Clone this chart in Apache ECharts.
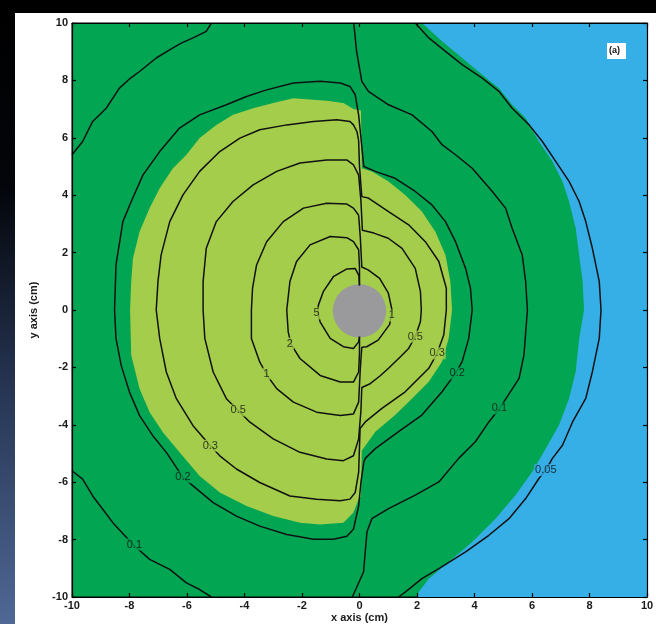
<!DOCTYPE html>
<html>
<head>
<meta charset="utf-8">
<script src="https://cdn.jsdelivr.net/npm/echarts@6/dist/echarts.min.js"></script>
<style>
  html, body { margin: 0; padding: 0; background: #fff; }
  #chart { width: 656px; height: 624px; }
</style>
</head>
<body>
<div id="chart"></div>
<script>
// Axis extents (cm)
const xMin = -10, xMax = 10, yMin = -10, yMax = 10, tickStep = 2;

// Isodose contour lines, [x, y] in cm. Each closed level runs around the
// left lobe, down/up the seam at x = 0 and around the smaller right lobe.
const level_5 = [
  [0.0, 0.85], [-0.02, 1.2], [-0.15, 1.45], [-0.44, 1.43], [-0.91, 1.16], [-1.26, 0.64],
  [-1.43, 0.17], [-1.45, -0.1], [-1.37, -0.41], [-1.02, -0.99], [-0.56, -1.28],
  [-0.21, -1.34], [-0.03, -1.11], [0.0, -0.93]
];
const level_2 = [
  [0.0, 0.88], [0.0, 1.5], [-0.03, 2.1], [-0.21, 2.38], [-0.44, 2.52], [-1.02, 2.56],
  [-1.72, 2.27], [-2.19, 1.69], [-2.42, 0.99], [-2.53, 0.0], [-2.48, -0.76], [-2.38, -1.2],
  [-2.07, -1.69], [-1.37, -2.28], [-0.67, -2.51], [-0.21, -2.51], [-0.03, -2.16],
  [0.0, -1.5], [0.0, -0.93]
];
const level_1 = [
  [-0.03, 3.3], [-0.21, 3.55], [-0.44, 3.69], [-1.14, 3.72], [-1.95, 3.55], [-2.65, 3.08],
  [-3.23, 2.38], [-3.58, 1.57], [-3.72, 0.76], [-3.76, 0.0], [-3.76, -0.99], [-3.47, -1.81],
  [-3.2, -2.3], [-2.88, -2.74], [-2.3, -3.21], [-1.49, -3.56], [-0.67, -3.68], [-0.21, -3.62],
  [-0.03, -3.21], [0.03, -2.0], [0.08, -1.3], [0.25, -1.28], [0.65, -1.05], [1.05, -0.5],
  [1.13, 0.0], [1.0, 0.6], [0.7, 1.1], [0.3, 1.4], [0.08, 1.5], [0.03, 2.5], [-0.03, 3.3]
];
const level_05 = [
  [-0.03, 4.7], [-0.21, 5.06], [-0.44, 5.23], [-1.14, 5.23], [-2.07, 5.12], [-2.88, 4.83],
  [-3.7, 4.36], [-4.4, 3.78], [-4.98, 3.08], [-5.33, 2.15], [-5.44, 0.99], [-5.44, 0.0],
  [-5.38, -0.99], [-5.09, -2.16], [-4.63, -3.09], [-4.22, -3.5], [-3.81, -3.91], [-3.0, -4.49],
  [-2.07, -4.96], [-1.14, -5.19], [-0.56, -5.25], [-0.21, -5.08], [-0.03, -4.49],
  [0.05, -3.5], [0.08, -2.7], [0.35, -2.58], [0.71, -2.3], [1.01, -2.03], [1.45, -1.6],
  [1.71, -1.34], [1.94, -0.93], [2.12, -0.4], [2.15, 0.0], [2.12, 0.64], [1.94, 1.45],
  [1.48, 2.15], [1.0, 2.5], [0.5, 2.68], [0.1, 2.78], [0.05, 3.8], [-0.03, 4.7]
];
const level_03 = [
  [-0.03, 5.9], [-0.09, 6.22], [-0.21, 6.45], [-0.33, 6.57], [-0.79, 6.63], [-1.6, 6.57],
  [-2.53, 6.45], [-3.47, 6.28], [-4.16, 5.99], [-4.86, 5.52], [-5.56, 4.83], [-6.14, 4.01],
  [-6.6, 3.08], [-6.9, 1.92], [-7.01, 0.99], [-7.07, 0.0], [-6.95, -0.99], [-6.72, -2.16],
  [-6.37, -3.09], [-5.79, -4.03], [-5.19, -4.73], [-4.86, -5.08], [-4.28, -5.54],
  [-3.47, -6.01], [-2.42, -6.48], [-1.49, -6.59], [-0.67, -6.65], [-0.33, -6.59],
  [-0.15, -6.36], [-0.03, -5.66], [0.02, -4.13], [0.2, -3.9], [0.78, -3.43], [1.59, -2.85],
  [2.41, -2.03], [2.7, -1.51], [2.93, -0.87], [3.02, 0.0], [3.02, 0.76], [2.76, 1.69],
  [2.29, 2.38], [1.71, 2.97], [1.01, 3.43], [0.31, 3.9], [0.08, 3.95], [0.0, 5.0], [-0.03, 5.9]
];
const level_02 = [
  [-0.03, 6.8], [-0.15, 7.5], [-0.33, 7.79], [-0.67, 7.91], [-1.37, 7.97], [-2.3, 7.91],
  [-3.23, 7.67], [-3.93, 7.44], [-4.63, 7.15], [-5.56, 6.8], [-6.26, 6.34], [-6.95, 5.52],
  [-7.53, 4.71], [-7.94, 3.78], [-8.23, 3.08], [-8.47, 1.57], [-8.52, 0.0], [-8.47, -0.99],
  [-8.29, -1.93], [-8.0, -2.86], [-7.65, -3.68], [-7.19, -4.38], [-6.72, -4.96],
  [-6.14, -5.83], [-5.79, -6.13], [-5.09, -6.71], [-4.28, -7.18], [-3.47, -7.53],
  [-2.53, -7.82], [-1.6, -7.99], [-0.91, -7.99], [-0.44, -7.88], [-0.21, -7.64],
  [-0.03, -6.83], [0.05, -6.0], [0.15, -5.3], [0.2, -5.17], [0.55, -4.83], [1.36, -4.24],
  [2.17, -3.66], [2.87, -2.85], [3.34, -2.21], [3.57, -1.8], [3.8, -0.99], [3.92, 0.0],
  [3.86, 0.76], [3.69, 1.45], [3.34, 2.38], [2.99, 3.08], [2.52, 3.66], [1.94, 4.13],
  [1.24, 4.59], [0.55, 4.83], [0.15, 5.0], [0.05, 6.0], [-0.03, 6.8]
];
const level_01_upperLeft = [
  [-5.15, 10.0], [-5.33, 9.71], [-5.79, 9.48], [-6.2, 9.3], [-6.49, 9.13], [-7.07, 8.78],
  [-7.65, 8.31], [-8.0, 8.05], [-8.35, 7.73], [-8.81, 7.03], [-9.28, 6.57], [-9.63, 5.87],
  [-10.0, 5.41]
];
const level_01_lowerLeft = [
  [-10.0, -5.6], [-9.63, -5.89], [-9.28, -6.48], [-8.93, -6.94], [-8.58, -7.41],
  [-7.88, -8.17], [-7.3, -8.69], [-6.6, -9.04], [-6.02, -9.51], [-5.56, -9.74], [-5.15, -10.0]
];
const level_01_right = [
  [-0.2, 10.0], [-0.1, 9.0], [0.08, 7.97], [0.31, 7.62], [1.01, 7.15], [1.83, 6.8],
  [2.52, 6.22], [2.87, 5.76], [3.34, 5.41], [3.92, 4.94], [4.62, 4.13], [5.08, 3.55],
  [5.31, 2.85], [5.66, 1.92], [5.78, 0.99], [5.84, 0.0], [5.72, -1.57], [5.55, -2.38],
  [5.14, -3.02], [4.87, -3.43], [4.5, -3.9], [4.03, -4.59], [3.45, -5.17], [2.76, -5.99],
  [1.94, -6.45], [1.01, -6.92], [0.43, -7.27], [0.26, -7.73], [0.14, -9.13], [-0.25, -10.0]
];
const level_005 = [
  [1.94, 10.0], [2.41, 9.48], [2.99, 9.01], [3.57, 8.55], [4.27, 8.08], [4.85, 7.62],
  [5.31, 7.03], [5.9, 6.45], [6.36, 5.87], [6.83, 5.17], [7.29, 4.48], [7.64, 3.78],
  [7.87, 3.08], [8.1, 2.15], [8.34, 0.99], [8.4, 0.0], [8.34, -0.99], [8.1, -2.15],
  [7.87, -3.08], [7.41, -3.9], [7.06, -4.71], [6.71, -5.17], [6.48, -5.58], [6.24, -5.87],
  [5.78, -6.57], [5.2, -7.27], [4.5, -7.85], [3.69, -8.43], [2.76, -9.01], [2.17, -9.36],
  [1.59, -9.83], [1.36, -10.0]
];

// Filled dose bands: edge of the lowest band (right side) and of the upper band
const blueEdge = [
  [2.17, 10.0], [2.87, 9.36], [3.57, 8.78], [4.27, 8.2], [4.85, 7.73], [5.31, 7.15],
  [5.78, 6.69], [6.24, 5.87], [6.71, 5.17], [7.06, 4.48], [7.29, 3.78], [7.52, 2.85],
  [7.64, 1.92], [7.76, 0.99], [7.81, 0.0], [7.64, -0.99], [7.52, -2.15], [7.29, -3.08],
  [6.94, -4.01], [6.48, -4.83], [6.01, -5.64], [5.43, -6.45], [4.73, -7.27], [3.92, -8.08],
  [3.1, -8.78], [2.41, -9.36], [2.06, -9.83], [2.0, -10.0]
];
const lightGreenEdge = [
  [0.05, 6.95], [-0.21, 7.0], [-0.56, 7.21], [-1.14, 7.29], [-2.3, 7.38], [-3.0, 7.21],
  [-3.7, 7.03], [-4.4, 6.8], [-4.98, 6.45], [-5.56, 5.99], [-6.02, 5.41], [-6.49, 4.94],
  [-6.95, 4.24], [-7.3, 3.55], [-7.65, 2.73], [-7.88, 1.8], [-7.94, 0.99], [-7.98, 0.0],
  [-7.94, -1.58], [-7.65, -2.74], [-7.3, -3.56], [-6.84, -4.26], [-6.26, -4.96],
  [-5.56, -5.78], [-4.86, -6.36], [-3.93, -6.83], [-3.0, -7.18], [-2.07, -7.41],
  [-1.37, -7.47], [-0.56, -7.41], [-0.21, -7.06], [-0.03, -6.59], [0.05, -6.5],
  [0.08, -4.9], [0.55, -4.24], [1.24, -3.66], [1.83, -3.08], [2.41, -2.5], [2.87, -1.8],
  [3.1, -0.99], [3.22, 0.0], [3.16, 0.99], [2.99, 1.92], [2.64, 2.73], [2.17, 3.43],
  [1.59, 4.01], [1.01, 4.48], [0.43, 4.83], [0.08, 4.94]
];

// Source: centre x, centre y, radius (cm)
const source = [0.0, -0.03, 0.93];

// Inline contour labels
const labelX = [-1.49, -2.42, -3.23, -4.22, -5.19, -6.14, -7.83, 1.12, 1.94, 2.7, 3.4, 4.87, 6.48];
const labelY = [-0.12, -1.17, -2.22, -3.5, -4.73, -5.83, -8.17, -0.19, -0.93, -1.51, -2.21, -3.43, -5.58];
const labelText = ['5', '2', '1', '0.5', '0.3', '0.2', '0.1', '1', '0.5', '0.3', '0.2', '0.1', '0.05'];

const COLORS = {
  dark: '#02a552',
  light: '#a3cd4b',
  blue: '#36aee6',
  source: '#9a9a9c',
  line: '#111111'
};
const FONT = 'Liberation Sans, Arial, sans-serif';

const blueRegion = blueEdge.concat([[xMax, yMin], [xMax, yMax]]);

function inside(pt, poly) {
  let c = false;
  for (let i = 0, j = poly.length - 1; i < poly.length; j = i++) {
    const [xi, yi] = poly[i], [xj, yj] = poly[j];
    if ((yi > pt[1]) !== (yj > pt[1]) &&
        pt[0] < (xj - xi) * (pt[1] - yi) / (yj - yi) + xi) c = !c;
  }
  return c;
}
function bandColor(pt) {
  if (inside(pt, lightGreenEdge)) return COLORS.light;
  if (inside(pt, blueRegion)) return COLORS.blue;
  return COLORS.dark;
}

function regionSeries(poly, fill, z) {
  return {
    type: 'custom',
    coordinateSystem: 'cartesian2d',
    silent: true,
    clip: true,
    z: z,
    data: [poly[0]],
    renderItem: function (params, api) {
      return {
        type: 'polygon',
        shape: { points: poly.map(p => api.coord(p)) },
        style: { fill: fill, stroke: null }
      };
    }
  };
}

function contourSeries(pts) {
  return {
    type: 'line',
    data: pts,
    symbol: 'none',
    silent: true,
    z: 5,
    lineStyle: { color: COLORS.line, width: 1.5 }
  };
}

const chart = echarts.init(document.getElementById('chart'), null, { renderer: 'canvas' });

const axisCommon = {
  type: 'value',
  min: xMin,
  max: xMax,
  interval: tickStep,
  z: 20,
  splitLine: { show: false },
  axisLine: { show: true, onZero: false, lineStyle: { color: '#000', width: 1.2 } },
  axisTick: { show: true, inside: true, length: 4, lineStyle: { color: '#000', width: 1.2 } }
};
const labelStyle = { fontSize: 11, fontWeight: 'bold', color: '#1a1a1a', fontFamily: FONT };
const nameStyle = { fontSize: 11, fontWeight: 'bold', color: '#1a1a1a', fontFamily: FONT };

chart.setOption({
  animation: false,
  backgroundColor: '#ffffff',
  grid: {
    left: 72, right: 9, top: 23, bottom: 27,
    outerBoundsMode: 'none',
    containLabel: false,
    show: true,
    backgroundColor: COLORS.dark,
    borderColor: '#000',
    borderWidth: 1
  },
  xAxis: [
    Object.assign({}, axisCommon, {
      position: 'bottom',
      axisLabel: Object.assign({ margin: 3 }, labelStyle),
      name: 'x axis (cm)',
      nameLocation: 'middle',
      nameGap: 15,
      nameMoveOverlap: false,
      nameTextStyle: nameStyle
    }),
    Object.assign({}, axisCommon, { position: 'top', axisLabel: { show: false } })
  ],
  yAxis: [
    Object.assign({}, axisCommon, {
      min: yMin, max: yMax,
      position: 'left',
      axisLabel: Object.assign({ margin: 4 }, labelStyle),
      name: 'y axis (cm)',
      nameLocation: 'middle',
      nameGap: 33,
      nameMoveOverlap: false,
      nameTextStyle: nameStyle
    }),
    Object.assign({}, axisCommon, { min: yMin, max: yMax, position: 'right', axisLabel: { show: false } })
  ],
  graphic: [
    { type: 'rect', left: 0, top: 0, z: 0, shape: { width: 656, height: 13 }, style: { fill: '#000' } },
    {
      type: 'rect', left: 0, top: 0, z: 0,
      shape: { width: 15, height: 624 },
      style: {
        fill: new echarts.graphic.LinearGradient(0, 0, 0, 1, [
          { offset: 0, color: '#000000' },
          { offset: 0.3, color: '#03050a' },
          { offset: 0.6, color: '#24324f' },
          { offset: 1, color: '#4f6895' }
        ])
      }
    },
    { type: 'rect', left: 607, top: 43, z: 50, shape: { width: 19, height: 16 }, style: { fill: '#fff' } },
    {
      type: 'text', left: 609, top: 46, z: 51,
      style: { text: '(a)', fontSize: 9, fontWeight: 'bold', fill: '#111', fontFamily: FONT }
    }
  ],
  series: [
    regionSeries(blueRegion, COLORS.blue, 1),
    regionSeries(lightGreenEdge, COLORS.light, 2),
    {
      type: 'custom',
      coordinateSystem: 'cartesian2d',
      silent: true,
      z: 3,
      data: [source],
      renderItem: function (params, api) {
        const c = api.coord([api.value(0), api.value(1)]);
        const s = api.size([api.value(2), api.value(2)]);
        return {
          type: 'circle',
          shape: { cx: c[0], cy: c[1], r: (s[0] + s[1]) / 2 },
          style: { fill: COLORS.source }
        };
      }
    },
    contourSeries(level_005),
    contourSeries(level_01_upperLeft),
    contourSeries(level_01_lowerLeft),
    contourSeries(level_01_right),
    contourSeries(level_02),
    contourSeries(level_03),
    contourSeries(level_05),
    contourSeries(level_1),
    contourSeries(level_2),
    contourSeries(level_5),
    {
      type: 'scatter',
      silent: true,
      z: 8,
      symbolSize: 2,
      itemStyle: { color: 'rgba(0,0,0,0)' },
      data: labelX.map((x, i) => ({
        value: [x, labelY[i]],
        name: labelText[i],
        label: { backgroundColor: bandColor([x, labelY[i]]) }
      })),
      label: {
        show: true,
        position: 'inside',
        formatter: '{b}',
        fontSize: 11,
        color: '#111',
        fontFamily: FONT,
        padding: [0, 1],
        lineHeight: 12
      }
    }
  ]
});
</script>
</body>
</html>
